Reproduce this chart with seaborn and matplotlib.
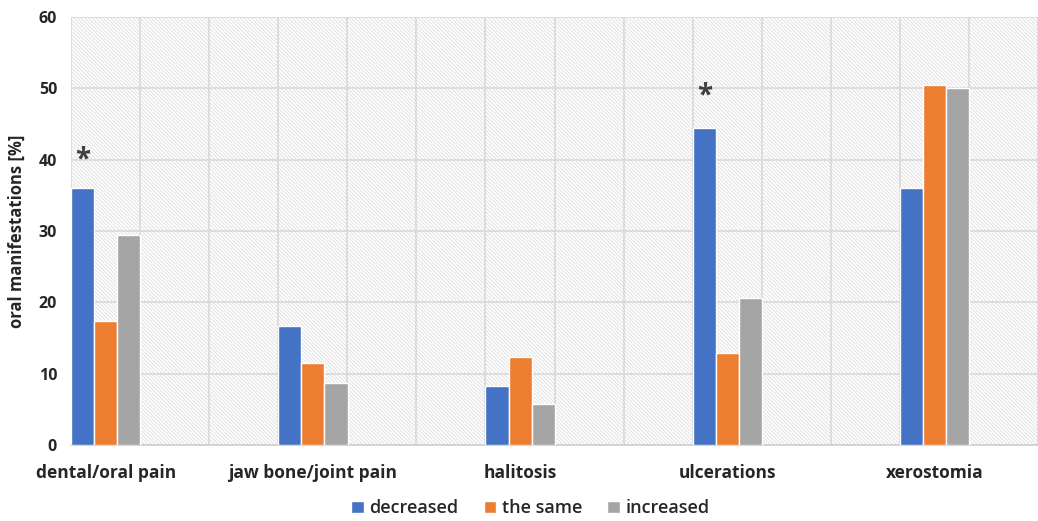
import matplotlib.pyplot as plt
import numpy as np
import pandas as pd
import seaborn as sns
from matplotlib.patches import Rectangle

sns.set_theme(style="white")
plt.rcParams["font.family"] = ["Open Sans", "DejaVu Sans"]
plt.rcParams["hatch.linewidth"] = 0.6

categories = ["dental/oral pain", "jaw bone/joint pain", "halitosis", "ulcerations", "xerostomia"]
series = ["decreased", "the same", "increased"]
decreased = [36.0, 16.7, 8.3, 44.4, 36.0]
the_same = [17.4, 11.5, 12.4, 12.9, 50.4]
increased = [29.5, 8.7, 5.8, 20.6, 50.0]
star_values = [40.0, None, None, 48.9, None]

colors = ["#4472C4", "#ED7D31", "#A5A5A5"]

df = pd.DataFrame({
    "category": categories * 3,
    "series": np.repeat(series, len(categories)),
    "value": decreased + the_same + increased,
})

fig = plt.figure(figsize=(10.38, 5.21), dpi=100)
ax = fig.add_axes([71 / 1038, 1 - 445 / 521, 1 - 71 / 1038, (445 - 17) / 521])

# hatched background
bg = Rectangle((0, 0), 1, 1, transform=ax.transAxes, facecolor="white",
               edgecolor="#DCDCDC", hatch="\\" * 9, linewidth=0, zorder=0)
ax.add_patch(bg)

sns.barplot(data=df, x="category", y="value", hue="series", order=categories,
            hue_order=series, palette=colors, width=0.335, saturation=1,
            edgecolor="white", linewidth=1.0, ax=ax, zorder=3)

grp = 0.335
ax.set_xlim(-grp / 2, 4 + (1038 - 942) / 209)
ax.set_ylim(0, 60)
ax.set_yticks(np.arange(0, 61, 10))
ax.set_xticks(np.arange(-grp / 2, 4.5, 1 / 3), minor=True)
ax.grid(which="major", axis="y", color="#D9D9D9", linewidth=1.2, zorder=1)
ax.grid(which="minor", axis="x", color="#D9D9D9", linewidth=1.2, zorder=1)
ax.grid(which="major", axis="x", visible=False)
ax.set_axisbelow(True)
for s in ["top", "right", "left"]:
    ax.spines[s].set_visible(False)
ax.spines["bottom"].set_color("#D0D0D0")
ax.spines["bottom"].set_linewidth(1.2)
ax.tick_params(axis="both", which="both", length=0)
ax.tick_params(axis="x", which="major", pad=14, labelsize=12.5)
ax.tick_params(axis="y", labelsize=11.5, pad=10)
for lab in ax.get_xticklabels() + ax.get_yticklabels():
    lab.set_fontweight("bold")

ax.set_xlabel("")
ax.set_ylabel("oral manifestations [%]", fontsize=12, fontweight="bold", labelpad=9)

bar_w = grp / 3
for i, v in enumerate(star_values):
    if v is not None:
        ax.text(i - bar_w, v, "*", ha="center", va="center", fontsize=20,
                fontweight="bold", color="#404040", zorder=4)

leg = ax.legend(loc="center", bbox_to_anchor=(0.475, -0.148), ncol=3, frameon=False,
                fontsize=13, handlelength=0.7, handleheight=0.7, handletextpad=0.3,
                columnspacing=1.4)
for t in leg.get_texts():
    t.set_fontweight("semibold")

fig.savefig("out.png", dpi=100)
